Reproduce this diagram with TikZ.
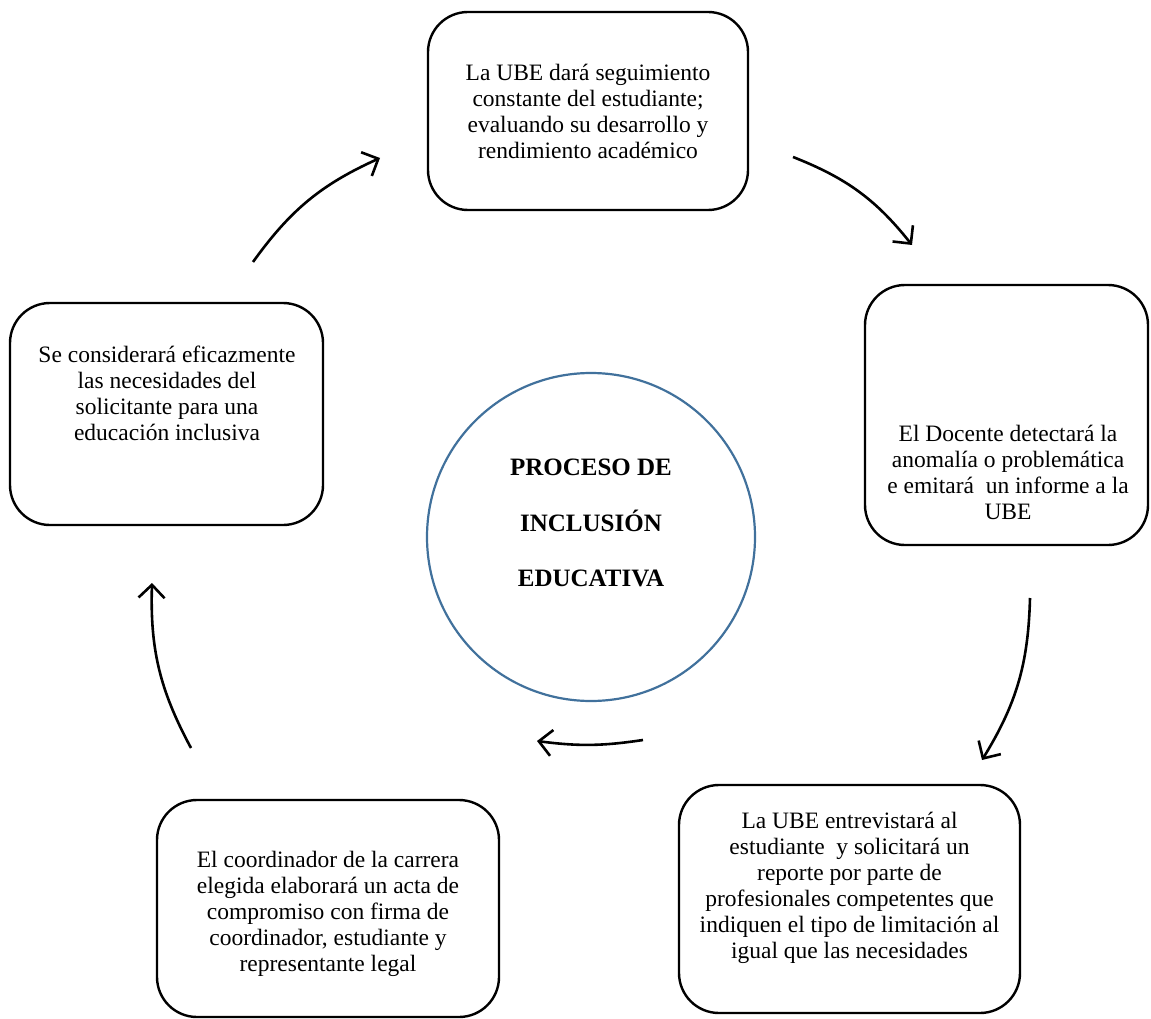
\documentclass[tikz,border=0pt]{standalone}
\usepackage{fontspec}
\setmainfont{Liberation Serif}
\usetikzlibrary{arrows.meta}
\definecolor{circleblue}{RGB}{65,113,156}

\begin{document}
\begin{tikzpicture}[x=1pt, y=-1pt,
    stage/.style={draw, line width=2.4pt, rounded corners=40pt, inner sep=0pt},
    stagetext/.style={align=center, font=\fontsize{23.5}{26}\selectfont},
    cycle/.style={-{Straight Barb[length=13pt, width=26pt]}, line width=2.6pt, bend left=#1},
    cycle/.default=15]
    \useasboundingbox (0,0) rectangle (1151,1019);

    \node[draw=circleblue, line width=2.2pt, circle, minimum size=328pt, inner sep=0pt] (center) at (591,537) {};
    \node[align=center, font=\bfseries\fontsize{25}{55.5}\selectfont] (center_text) at (591,523) {PROCESO DE\\INCLUSIÓN\\EDUCATIVA};

    \node[stage, minimum width=320pt, minimum height=198pt] (seguimiento) at (588,111) {};
    \node[stagetext] (seguimiento_text) at (588,111) {La UBE dará seguimiento\\constante del estudiante;\\evaluando su desarrollo y\\rendimiento académico};

    \node[stage, minimum width=283pt, minimum height=260pt] (deteccion) at (1006.5,415) {};
    \node[stagetext] (deteccion_text) at (1008,472) {El Docente detectará la\\anomalía o problemática\\e emitará\ \ un informe a la\\UBE};

    \node[stage, minimum width=341pt, minimum height=228pt] (entrevista) at (849.5,899) {};
    \node[stagetext] (entrevista_text) at (849.5,888) {La UBE entrevistará al\\estudiante\ \ y solicitará un\\reporte por parte de\\profesionales competentes que\\indiquen el tipo de limitación al\\igual que las necesidades};

    \node[stage, minimum width=342pt, minimum height=217pt] (acta) at (328,908.5) {};
    \node[stagetext] (acta_text) at (328,914) {El coordinador de la carrera\\elegida elaborará un acta de\\compromiso con firma de\\coordinador, estudiante y\\representante legal};

    \node[stage, minimum width=313pt, minimum height=222pt] (necesidades) at (166.5,414) {};
    \node[stagetext] (necesidades_text) at (167,393) {Se considerará eficazmente\\las necesidades del\\solicitante para una\\educación inclusiva};

    \coordinate (a1_start) at (253,262);
    \coordinate (a1_end) at (380,158);
    \coordinate (a2_start) at (793,157);
    \coordinate (a2_end) at (912,245);
    \coordinate (a3_start) at (1030,598);
    \coordinate (a3_end) at (982,760);
    \coordinate (a4_start) at (643,740);
    \coordinate (a4_end) at (537,741);
    \coordinate (a5_start) at (191,748);
    \coordinate (a5_end) at (152,583);

    \draw[cycle] (a1_start) to (a1_end);
    \draw[cycle] (a2_start) to (a2_end);
    \draw[cycle] (a3_start) to (a3_end);
    \draw[cycle=8] (a4_start) to (a4_end);
    \draw[cycle] (a5_start) to (a5_end);
\end{tikzpicture}
\end{document}
